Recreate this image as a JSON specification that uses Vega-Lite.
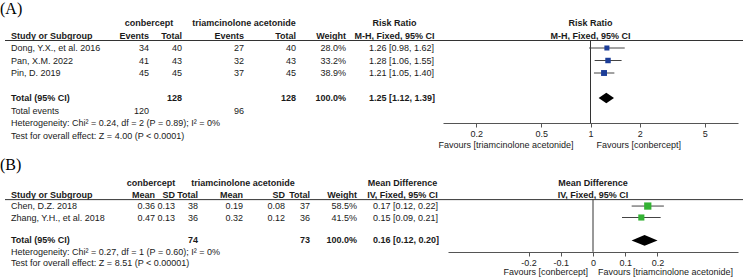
{
"$schema": "https://vega.github.io/schema/vega-lite/v6.json",
"padding": 0,
"config": {"view": {"stroke": null}, "text": {"font": "Liberation Sans", "fontSize": 9, "color": "#1a1a1a"}},
"datasets": {
"tA": [
{"row":"title","study":"(A)"},
{"row":"group","e1":"conbercept","e2":"triamcinolone acetonide","ci":"Risk Ratio"},
{"row":"header","study":"Study or Subgroup","e1":"Events","n1":"Total","e2":"Events","n2":"Total","w":"Weight","ci":"M-H, Fixed, 95% CI"},
{"row":"r1","study":"Dong, Y.X., et al. 2016","e1":"34","n1":"40","e2":"27","n2":"40","w":"28.0%","ci":"1.26 [0.98, 1.62]","est":1.26,"lo":0.98,"hi":1.62,"wt":28.0},
{"row":"r2","study":"Pan, X.M. 2022","e1":"41","n1":"43","e2":"32","n2":"43","w":"33.2%","ci":"1.28 [1.06, 1.55]","est":1.28,"lo":1.06,"hi":1.55,"wt":33.2},
{"row":"r3","study":"Pin, D. 2019","e1":"45","n1":"45","e2":"37","n2":"45","w":"38.9%","ci":"1.21 [1.05, 1.40]","est":1.21,"lo":1.05,"hi":1.40,"wt":38.9},
{"row":"total","study":"Total (95% CI)","n1":"128","n2":"128","w":"100.0%","ci":"1.25 [1.12, 1.39]","est":1.25,"lo":1.12,"hi":1.39,"wt":100},
{"row":"events","study":"Total events","e1":"120","e2":"96"},
{"row":"het","study":"Heterogeneity: Chi² = 0.24, df = 2 (P = 0.89); I² = 0%"},
{"row":"test","study":"Test for overall effect: Z = 4.00 (P < 0.0001)"}
],
"tB": [
{"row":"title","study":"(B)"},
{"row":"group","m1":"conbercept","m2":"triamcinolone acetonide","ci":"Mean Difference"},
{"row":"header","study":"Study or Subgroup","m1":"Mean","s1":"SD","n1":"Total","m2":"Mean","s2":"SD","n2":"Total","w":"Weight","ci":"IV, Fixed, 95% CI"},
{"row":"r1","study":"Chen, D.Z. 2018","m1":"0.36","s1":"0.13","n1":"38","m2":"0.19","s2":"0.08","n2":"37","w":"58.5%","ci":"0.17 [0.12, 0.22]","est":0.17,"lo":0.12,"hi":0.22,"wt":58.5},
{"row":"r2","study":"Zhang, Y.H., et al. 2018","m1":"0.47","s1":"0.13","n1":"36","m2":"0.32","s2":"0.12","n2":"36","w":"41.5%","ci":"0.15 [0.09, 0.21]","est":0.15,"lo":0.09,"hi":0.21,"wt":41.5},
{"row":"total","study":"Total (95% CI)","n1":"74","n2":"73","w":"100.0%","ci":"0.16 [0.12, 0.20]","est":0.16,"lo":0.12,"hi":0.20,"wt":100},
{"row":"het","study":"Heterogeneity: Chi² = 0.27, df = 1 (P = 0.60); I² = 0%"},
{"row":"test","study":"Test for overall effect: Z = 8.51 (P < 0.00001)"}
],
"favA": [{"side":"left","label":"Favours [triamcinolone acetonide]"},{"side":"right","label":"Favours [conbercept]"}],
"favB": [{"side":"left","label":"Favours [conbercept]"},{"side":"right","label":"Favours [triamcinolone acetonide]"}]
},
"vconcat": [
{"hconcat": [
{"width":114,"height":146,"data":{"name":"tA"},"encoding":{"y":{"field":"row","type":"nominal","scale":{"type":"point","domain":["title","group","header","r1","r2","r3","gap","total","events","het","test"],"padding":0.84},"axis":null}},
"layer":[
{"transform":[{"filter":"datum.row=='title'"}],"mark":{"type":"text","align":"left","font":"Liberation Serif","fontSize":16,"dx":-5,"dy":-2,"color":"#000"},"encoding":{"x":{"value":0},"text":{"field":"study"}}},
{"transform":[{"filter":"datum.row=='header'||datum.row=='total'"}],"mark":{"type":"text","align":"left","fontWeight":"bold","dx":6},"encoding":{"x":{"value":0},"text":{"field":"study"}}},
{"transform":[{"filter":"indexof(['r1','r2','r3','events','het','test'],datum.row)>=0"}],"mark":{"type":"text","align":"left","dx":6},"encoding":{"x":{"value":0},"text":{"field":"study"}}},
{"transform":[{"filter":"datum.row=='header'"}],"mark":{"type":"rule","yOffset":5,"color":"#333"},"encoding":{}}
]},
{"width":30,"height":146,"data":{"name":"tA"},"encoding":{"y":{"field":"row","type":"nominal","scale":{"type":"point","domain":["title","group","header","r1","r2","r3","gap","total","events","het","test"],"padding":0.84},"axis":null}},
"layer":[
{"transform":[{"filter":"datum.row=='group'&&isValid(datum.e1)"}],"mark":{"type":"text","align":"center","fontWeight":"bold"},"encoding":{"x":{"value":"width"},"text":{"field":"e1"}}},
{"transform":[{"filter":"(datum.row=='header'||datum.row=='total')&&isValid(datum.e1)"}],"mark":{"type":"text","align":"right","fontWeight":"bold"},"encoding":{"x":{"value":"width"},"text":{"field":"e1"}}},
{"transform":[{"filter":"indexof(['r1','r2','r3','events'],datum.row)>=0&&isValid(datum.e1)"}],"mark":{"type":"text","align":"right"},"encoding":{"x":{"value":"width"},"text":{"field":"e1"}}},
{"transform":[{"filter":"datum.row=='header'"}],"mark":{"type":"rule","yOffset":5,"color":"#333"},"encoding":{}}
]},
{"width":33,"height":146,"data":{"name":"tA"},"encoding":{"y":{"field":"row","type":"nominal","scale":{"type":"point","domain":["title","group","header","r1","r2","r3","gap","total","events","het","test"],"padding":0.84},"axis":null}},
"layer":[
{"transform":[{"filter":"(datum.row=='header'||datum.row=='total')&&isValid(datum.n1)"}],"mark":{"type":"text","align":"right","fontWeight":"bold"},"encoding":{"x":{"value":"width"},"text":{"field":"n1"}}},
{"transform":[{"filter":"indexof(['r1','r2','r3','events'],datum.row)>=0&&isValid(datum.n1)"}],"mark":{"type":"text","align":"right"},"encoding":{"x":{"value":"width"},"text":{"field":"n1"}}},
{"transform":[{"filter":"datum.row=='header'"}],"mark":{"type":"rule","yOffset":5,"color":"#333"},"encoding":{}}
]},
{"width":62,"height":146,"data":{"name":"tA"},"encoding":{"y":{"field":"row","type":"nominal","scale":{"type":"point","domain":["title","group","header","r1","r2","r3","gap","total","events","het","test"],"padding":0.84},"axis":null}},
"layer":[
{"transform":[{"filter":"datum.row=='group'&&isValid(datum.e2)"}],"mark":{"type":"text","align":"center","fontWeight":"bold"},"encoding":{"x":{"value":"width"},"text":{"field":"e2"}}},
{"transform":[{"filter":"(datum.row=='header'||datum.row=='total')&&isValid(datum.e2)"}],"mark":{"type":"text","align":"right","fontWeight":"bold"},"encoding":{"x":{"value":"width"},"text":{"field":"e2"}}},
{"transform":[{"filter":"indexof(['r1','r2','r3','events'],datum.row)>=0&&isValid(datum.e2)"}],"mark":{"type":"text","align":"right"},"encoding":{"x":{"value":"width"},"text":{"field":"e2"}}},
{"transform":[{"filter":"datum.row=='header'"}],"mark":{"type":"rule","yOffset":5,"color":"#333"},"encoding":{}}
]},
{"width":52,"height":146,"data":{"name":"tA"},"encoding":{"y":{"field":"row","type":"nominal","scale":{"type":"point","domain":["title","group","header","r1","r2","r3","gap","total","events","het","test"],"padding":0.84},"axis":null}},
"layer":[
{"transform":[{"filter":"(datum.row=='header'||datum.row=='total')&&isValid(datum.n2)"}],"mark":{"type":"text","align":"right","fontWeight":"bold"},"encoding":{"x":{"value":"width"},"text":{"field":"n2"}}},
{"transform":[{"filter":"indexof(['r1','r2','r3','events'],datum.row)>=0&&isValid(datum.n2)"}],"mark":{"type":"text","align":"right"},"encoding":{"x":{"value":"width"},"text":{"field":"n2"}}},
{"transform":[{"filter":"datum.row=='header'"}],"mark":{"type":"rule","yOffset":5,"color":"#333"},"encoding":{}}
]},
{"width":50,"height":146,"data":{"name":"tA"},"encoding":{"y":{"field":"row","type":"nominal","scale":{"type":"point","domain":["title","group","header","r1","r2","r3","gap","total","events","het","test"],"padding":0.84},"axis":null}},
"layer":[
{"transform":[{"filter":"(datum.row=='header'||datum.row=='total')&&isValid(datum.w)"}],"mark":{"type":"text","align":"right","fontWeight":"bold"},"encoding":{"x":{"value":"width"},"text":{"field":"w"}}},
{"transform":[{"filter":"indexof(['r1','r2','r3'],datum.row)>=0&&isValid(datum.w)"}],"mark":{"type":"text","align":"right"},"encoding":{"x":{"value":"width"},"text":{"field":"w"}}},
{"transform":[{"filter":"datum.row=='header'"}],"mark":{"type":"rule","yOffset":5,"color":"#333"},"encoding":{}}
]},
{"width":97,"height":146,"data":{"name":"tA"},"encoding":{"y":{"field":"row","type":"nominal","scale":{"type":"point","domain":["title","group","header","r1","r2","r3","gap","total","events","het","test"],"padding":0.84},"axis":null}},
"layer":[
{"transform":[{"filter":"datum.row=='group'||datum.row=='header'"}],"mark":{"type":"text","align":"center","fontWeight":"bold"},"encoding":{"text":{"field":"ci"}}},
{"transform":[{"filter":"datum.row=='total'"}],"mark":{"type":"text","align":"left","fontWeight":"bold","dx":23},"encoding":{"x":{"value":0},"text":{"field":"ci"}}},
{"transform":[{"filter":"indexof(['r1','r2','r3'],datum.row)>=0"}],"mark":{"type":"text","align":"left","dx":23},"encoding":{"x":{"value":0},"text":{"field":"ci"}}},
{"transform":[{"filter":"datum.row=='header'"}],"mark":{"type":"rule","yOffset":5,"color":"#333"},"encoding":{}}
]},
{"width":295,"height":146,"data":{"name":"tA"},"encoding":{"y":{"field":"row","type":"nominal","scale":{"type":"point","domain":["title","group","header","r1","r2","r3","gap","total","events","het","test"],"padding":0.84},"axis":null}},
"layer":[
{"transform":[{"filter":"datum.row=='group'||datum.row=='header'"}],"mark":{"type":"text","align":"center","fontWeight":"bold"},"encoding":{"text":{"field":"ci"}}},
{"transform":[{"filter":"datum.row=='header'"}],"mark":{"type":"rule","yOffset":5,"color":"#333"},"encoding":{}},
{"transform":[{"filter":"datum.row=='header'"}],"mark":{"type":"rule","color":"#333","yOffset":5},"encoding":{"x":{"datum":1,"type":"quantitative","scale":{"type":"log","domain":[0.125,8],"nice":false,"zero":false},"axis":{"values":[0.2,0.5,1,2,5],"labelExpr":"toString(datum.value)","title":null,"grid":false,"offset":-23,"tickSize":4,"labelPadding":2,"domainColor":"#555","tickColor":"#555","labelColor":"#222","labelFontSize":9,"labelFont":"Liberation Sans","labelFlush":false,"labelOverlap":false,"orient":"bottom"}},"y":{"datum":"header"},"y2":{"datum":"het"}}},
{"transform":[{"filter":"indexof(['r1','r2','r3'],datum.row)>=0"}],"mark":{"type":"rule","color":"#444"},"encoding":{"x":{"field":"lo","type":"quantitative","scale":{"type":"log","domain":[0.125,8],"nice":false,"zero":false}},"x2":{"field":"hi"}}},
{"transform":[{"filter":"indexof(['r1','r2','r3'],datum.row)>=0"}],"mark":{"type":"point","shape":"square","filled":true,"opacity":1,"color":"#1c3d98"},"encoding":{"x":{"field":"est","type":"quantitative","scale":{"type":"log","domain":[0.125,8],"nice":false,"zero":false}},"size":{"field":"wt","type":"quantitative","scale":{"domain":[0,100],"range":[0,90]},"legend":null}}},
{"transform":[{"filter":"datum.row=='total'"}],"mark":{"type":"point","shape":"M-1,0L0,-0.69L1,0L0,0.69Z","filled":true,"opacity":1,"color":"#000","size":237},"encoding":{"x":{"field":"est","type":"quantitative","scale":{"type":"log","domain":[0.125,8],"nice":false,"zero":false}}}},
{"data":{"name":"favA"},"transform":[{"filter":"datum.side=='left'"}],"mark":{"type":"text","align":"right","dx":-17,"dy":9},"encoding":{"x":{"datum":1,"type":"quantitative","scale":{"type":"log","domain":[0.125,8],"nice":false,"zero":false}},"y":{"datum":"test"},"text":{"field":"label"}}},
{"data":{"name":"favA"},"transform":[{"filter":"datum.side=='right'"}],"mark":{"type":"text","align":"left","dx":6,"dy":9},"encoding":{"x":{"datum":1,"type":"quantitative","scale":{"type":"log","domain":[0.125,8],"nice":false,"zero":false}},"y":{"datum":"test"},"text":{"field":"label"}}}
]},
{"width":5,"height":146,"data":{"name":"tA"},"transform":[{"filter":"datum.row=='header'"}],"mark":{"type":"rule","yOffset":5,"color":"#333"},"encoding":{"y":{"field":"row","type":"nominal","scale":{"type":"point","domain":["title","group","header","r1","r2","r3","gap","total","events","het","test"],"padding":0.84},"axis":null}}}
], "spacing": 0, "bounds": "flush"},
{"hconcat": [
{"width":120,"height":103,"data":{"name":"tB"},"encoding":{"y":{"field":"row","type":"nominal","scale":{"type":"point","domain":["title","group","header","r1","r2","gap","total","het","test"],"padding":0.5},"axis":null}},
"layer":[
{"transform":[{"filter":"datum.row=='title'"}],"mark":{"type":"text","align":"left","font":"Liberation Serif","fontSize":16,"dx":-5,"dy":-7,"color":"#000"},"encoding":{"x":{"value":0},"text":{"field":"study"}}},
{"transform":[{"filter":"datum.row=='header'||datum.row=='total'"}],"mark":{"type":"text","align":"left","fontWeight":"bold","dx":6},"encoding":{"x":{"value":0},"text":{"field":"study"}}},
{"transform":[{"filter":"indexof(['r1','r2','het','test'],datum.row)>=0"}],"mark":{"type":"text","align":"left","dx":6},"encoding":{"x":{"value":0},"text":{"field":"study"}}},
{"transform":[{"filter":"datum.row=='header'"}],"mark":{"type":"rule","yOffset":5,"color":"#333"},"encoding":{}}
]},
{"width":30,"height":103,"data":{"name":"tB"},"encoding":{"y":{"field":"row","type":"nominal","scale":{"type":"point","domain":["title","group","header","r1","r2","gap","total","het","test"],"padding":0.5},"axis":null}},
"layer":[
{"transform":[{"filter":"datum.row=='group'&&isValid(datum.m1)"}],"mark":{"type":"text","align":"center","fontWeight":"bold","dx":-4},"encoding":{"x":{"value":"width"},"text":{"field":"m1"}}},
{"transform":[{"filter":"(datum.row=='header'||datum.row=='total')&&isValid(datum.m1)"}],"mark":{"type":"text","align":"right","fontWeight":"bold"},"encoding":{"x":{"value":"width"},"text":{"field":"m1"}}},
{"transform":[{"filter":"indexof(['r1','r2'],datum.row)>=0&&isValid(datum.m1)"}],"mark":{"type":"text","align":"right"},"encoding":{"x":{"value":"width"},"text":{"field":"m1"}}},
{"transform":[{"filter":"datum.row=='header'"}],"mark":{"type":"rule","yOffset":5,"color":"#333"},"encoding":{}}
]},
{"width":20,"height":103,"data":{"name":"tB"},"encoding":{"y":{"field":"row","type":"nominal","scale":{"type":"point","domain":["title","group","header","r1","r2","gap","total","het","test"],"padding":0.5},"axis":null}},
"layer":[
{"transform":[{"filter":"(datum.row=='header'||datum.row=='total')&&isValid(datum.s1)"}],"mark":{"type":"text","align":"right","fontWeight":"bold"},"encoding":{"x":{"value":"width"},"text":{"field":"s1"}}},
{"transform":[{"filter":"indexof(['r1','r2'],datum.row)>=0&&isValid(datum.s1)"}],"mark":{"type":"text","align":"right"},"encoding":{"x":{"value":"width"},"text":{"field":"s1"}}},
{"transform":[{"filter":"datum.row=='header'"}],"mark":{"type":"rule","yOffset":5,"color":"#333"},"encoding":{}}
]},
{"width":23,"height":103,"data":{"name":"tB"},"encoding":{"y":{"field":"row","type":"nominal","scale":{"type":"point","domain":["title","group","header","r1","r2","gap","total","het","test"],"padding":0.5},"axis":null}},
"layer":[
{"transform":[{"filter":"(datum.row=='header'||datum.row=='total')&&isValid(datum.n1)"}],"mark":{"type":"text","align":"right","fontWeight":"bold"},"encoding":{"x":{"value":"width"},"text":{"field":"n1"}}},
{"transform":[{"filter":"indexof(['r1','r2'],datum.row)>=0&&isValid(datum.n1)"}],"mark":{"type":"text","align":"right"},"encoding":{"x":{"value":"width"},"text":{"field":"n1"}}},
{"transform":[{"filter":"datum.row=='header'"}],"mark":{"type":"rule","yOffset":5,"color":"#333"},"encoding":{}}
]},
{"width":45,"height":103,"data":{"name":"tB"},"encoding":{"y":{"field":"row","type":"nominal","scale":{"type":"point","domain":["title","group","header","r1","r2","gap","total","het","test"],"padding":0.5},"axis":null}},
"layer":[
{"transform":[{"filter":"datum.row=='group'&&isValid(datum.m2)"}],"mark":{"type":"text","align":"center","fontWeight":"bold"},"encoding":{"x":{"value":"width"},"text":{"field":"m2"}}},
{"transform":[{"filter":"(datum.row=='header'||datum.row=='total')&&isValid(datum.m2)"}],"mark":{"type":"text","align":"right","fontWeight":"bold"},"encoding":{"x":{"value":"width"},"text":{"field":"m2"}}},
{"transform":[{"filter":"indexof(['r1','r2'],datum.row)>=0&&isValid(datum.m2)"}],"mark":{"type":"text","align":"right"},"encoding":{"x":{"value":"width"},"text":{"field":"m2"}}},
{"transform":[{"filter":"datum.row=='header'"}],"mark":{"type":"rule","yOffset":5,"color":"#333"},"encoding":{}}
]},
{"width":42,"height":103,"data":{"name":"tB"},"encoding":{"y":{"field":"row","type":"nominal","scale":{"type":"point","domain":["title","group","header","r1","r2","gap","total","het","test"],"padding":0.5},"axis":null}},
"layer":[
{"transform":[{"filter":"(datum.row=='header'||datum.row=='total')&&isValid(datum.s2)"}],"mark":{"type":"text","align":"right","fontWeight":"bold"},"encoding":{"x":{"value":"width"},"text":{"field":"s2"}}},
{"transform":[{"filter":"indexof(['r1','r2'],datum.row)>=0&&isValid(datum.s2)"}],"mark":{"type":"text","align":"right"},"encoding":{"x":{"value":"width"},"text":{"field":"s2"}}},
{"transform":[{"filter":"datum.row=='header'"}],"mark":{"type":"rule","yOffset":5,"color":"#333"},"encoding":{}}
]},
{"width":25,"height":103,"data":{"name":"tB"},"encoding":{"y":{"field":"row","type":"nominal","scale":{"type":"point","domain":["title","group","header","r1","r2","gap","total","het","test"],"padding":0.5},"axis":null}},
"layer":[
{"transform":[{"filter":"(datum.row=='header'||datum.row=='total')&&isValid(datum.n2)"}],"mark":{"type":"text","align":"right","fontWeight":"bold"},"encoding":{"x":{"value":"width"},"text":{"field":"n2"}}},
{"transform":[{"filter":"indexof(['r1','r2'],datum.row)>=0&&isValid(datum.n2)"}],"mark":{"type":"text","align":"right"},"encoding":{"x":{"value":"width"},"text":{"field":"n2"}}},
{"transform":[{"filter":"datum.row=='header'"}],"mark":{"type":"rule","yOffset":5,"color":"#333"},"encoding":{}}
]},
{"width":47,"height":103,"data":{"name":"tB"},"encoding":{"y":{"field":"row","type":"nominal","scale":{"type":"point","domain":["title","group","header","r1","r2","gap","total","het","test"],"padding":0.5},"axis":null}},
"layer":[
{"transform":[{"filter":"(datum.row=='header'||datum.row=='total')&&isValid(datum.w)"}],"mark":{"type":"text","align":"right","fontWeight":"bold"},"encoding":{"x":{"value":"width"},"text":{"field":"w"}}},
{"transform":[{"filter":"indexof(['r1','r2'],datum.row)>=0&&isValid(datum.w)"}],"mark":{"type":"text","align":"right"},"encoding":{"x":{"value":"width"},"text":{"field":"w"}}},
{"transform":[{"filter":"datum.row=='header'"}],"mark":{"type":"rule","yOffset":5,"color":"#333"},"encoding":{}}
]},
{"width":91,"height":103,"data":{"name":"tB"},"encoding":{"y":{"field":"row","type":"nominal","scale":{"type":"point","domain":["title","group","header","r1","r2","gap","total","het","test"],"padding":0.5},"axis":null}},
"layer":[
{"transform":[{"filter":"datum.row=='group'||datum.row=='header'"}],"mark":{"type":"text","align":"center","fontWeight":"bold"},"encoding":{"text":{"field":"ci"}}},
{"transform":[{"filter":"datum.row=='total'"}],"mark":{"type":"text","align":"left","fontWeight":"bold","dx":16},"encoding":{"x":{"value":0},"text":{"field":"ci"}}},
{"transform":[{"filter":"indexof(['r1','r2'],datum.row)>=0"}],"mark":{"type":"text","align":"left","dx":16},"encoding":{"x":{"value":0},"text":{"field":"ci"}}},
{"transform":[{"filter":"datum.row=='header'"}],"mark":{"type":"rule","yOffset":5,"color":"#333"},"encoding":{}}
]},
{"width":290,"height":103,"data":{"name":"tB"},"encoding":{"y":{"field":"row","type":"nominal","scale":{"type":"point","domain":["title","group","header","r1","r2","gap","total","het","test"],"padding":0.5},"axis":null}},
"layer":[
{"transform":[{"filter":"datum.row=='group'||datum.row=='header'"}],"mark":{"type":"text","align":"center","fontWeight":"bold"},"encoding":{"text":{"field":"ci"}}},
{"transform":[{"filter":"datum.row=='header'"}],"mark":{"type":"rule","yOffset":5,"color":"#333"},"encoding":{}},
{"transform":[{"filter":"datum.row=='header'"}],"mark":{"type":"rule","color":"#333","yOffset":5},"encoding":{"x":{"datum":0,"type":"quantitative","scale":{"type":"linear","domain":[-0.45,0.45],"nice":false,"zero":false},"axis":{"values":[-0.2,-0.1,0,0.1,0.2],"labelExpr":"toString(datum.value)","title":null,"grid":false,"offset":-17,"tickSize":4,"labelPadding":2,"domainColor":"#555","tickColor":"#555","labelColor":"#222","labelFontSize":9,"labelFont":"Liberation Sans","labelFlush":false,"labelOverlap":false,"orient":"bottom"}},"y":{"datum":"header"},"y2":{"datum":"het"}}},
{"transform":[{"filter":"indexof(['r1','r2'],datum.row)>=0"}],"mark":{"type":"rule","color":"#444"},"encoding":{"x":{"field":"lo","type":"quantitative","scale":{"type":"linear","domain":[-0.45,0.45],"nice":false,"zero":false}},"x2":{"field":"hi"}}},
{"transform":[{"filter":"indexof(['r1','r2'],datum.row)>=0"}],"mark":{"type":"point","shape":"square","filled":true,"opacity":1,"color":"#33b233"},"encoding":{"x":{"field":"est","type":"quantitative","scale":{"type":"linear","domain":[-0.45,0.45],"nice":false,"zero":false}},"size":{"field":"wt","type":"quantitative","scale":{"domain":[0,100],"range":[0,150]},"legend":null}}},
{"transform":[{"filter":"datum.row=='total'"}],"mark":{"type":"point","shape":"M-1,0L0,-0.41L1,0L0,0.41Z","filled":true,"opacity":1,"color":"#000","size":676},"encoding":{"x":{"field":"est","type":"quantitative","scale":{"type":"linear","domain":[-0.45,0.45],"nice":false,"zero":false}}}},
{"data":{"name":"favB"},"transform":[{"filter":"datum.side=='left'"}],"mark":{"type":"text","align":"right","dx":-5,"dy":9},"encoding":{"x":{"datum":0,"type":"quantitative","scale":{"type":"linear","domain":[-0.45,0.45],"nice":false,"zero":false}},"y":{"datum":"test"},"text":{"field":"label"}}},
{"data":{"name":"favB"},"transform":[{"filter":"datum.side=='right'"}],"mark":{"type":"text","align":"left","dx":5,"dy":9},"encoding":{"x":{"datum":0,"type":"quantitative","scale":{"type":"linear","domain":[-0.45,0.45],"nice":false,"zero":false}},"y":{"datum":"test"},"text":{"field":"label"}}}
]},
{"width":5,"height":103,"data":{"name":"tB"},"transform":[{"filter":"datum.row=='header'"}],"mark":{"type":"rule","yOffset":5,"color":"#333"},"encoding":{"y":{"field":"row","type":"nominal","scale":{"type":"point","domain":["title","group","header","r1","r2","gap","total","het","test"],"padding":0.5},"axis":null}}}
], "spacing": 0, "bounds": "flush"}
],
"spacing": 6
}
